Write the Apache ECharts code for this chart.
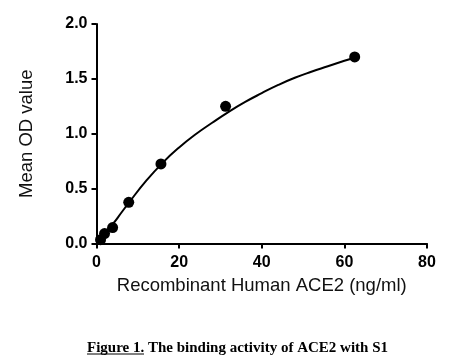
<!DOCTYPE html>
<html>
<head>
<meta charset="utf-8">
<script src="https://cdn.jsdelivr.net/npm/echarts@6/dist/echarts.min.js"></script>
<style>
html,body{margin:0;padding:0;background:#fff;}
#c{width:469px;height:356px;}
</style>
</head>
<body>
<div id="c"></div>
<script>
// Measured points (concentration, mean OD)
var concentration = [0.98, 1.95, 3.9, 7.8, 15.6, 31.25, 62.5];
var meanOD = [0.035, 0.09, 0.145, 0.375, 0.725, 1.25, 1.70];
// Fitted curve
var curveX = [0, 1, 2, 4, 6, 8, 12, 16, 20, 24, 28, 32, 36, 40, 44, 48, 52, 56, 60, 62.5];
var curveY = [0.012, 0.05, 0.10, 0.18, 0.28, 0.38, 0.57, 0.735, 0.875, 0.995, 1.10, 1.20, 1.29, 1.37, 1.445, 1.51, 1.565, 1.615, 1.665, 1.695];
var xTicks = [0, 20, 40, 60, 80];
var yTicks = [0, 0.5, 1.0, 1.5, 2.0];
var xName = 'Recombinant Human ACE2 (ng/ml)';
var yName = 'Mean OD value';
var caption = 'Figure 1. The binding activity of ACE2 with S1';

var chart = echarts.init(document.getElementById('c'), null, {renderer: 'canvas'});
var axisFont = 'Liberation Sans, Arial, sans-serif';
chart.setOption({
  animation: false,
  backgroundColor: '#fff',
  title: {
    text: caption,
    left: 82, top: 336,
    textStyle: {fontFamily: 'Liberation Serif, Times New Roman, serif', fontWeight: 'bold', fontSize: 15, color: '#000'}
  },
  graphic: [{
    type: 'line', shape: {x1: 87, y1: 354, x2: 144, y2: 354},
    style: {stroke: '#000', lineWidth: 1}
  }],
  grid: {left: 96.5, right: 42, top: 24, bottom: 112.5, containLabel: false},
  xAxis: {
    type: 'value', min: xTicks[0], max: xTicks[xTicks.length-1], interval: xTicks[1]-xTicks[0],
    name: xName, nameLocation: 'middle', nameGap: 33,
    nameTextStyle: {fontFamily: axisFont, fontSize: 18.5, color: '#111'},
    axisLine: {show: true, onZero: false, lineStyle: {color: '#000', width: 2}},
    axisTick: {show: true, inside: false, length: 5, lineStyle: {color: '#000', width: 2}},
    axisLabel: {margin: 11, fontFamily: axisFont, fontWeight: 'bold', fontSize: 16, color: '#000'},
    splitLine: {show: false}
  },
  yAxis: {
    type: 'value', min: yTicks[0], max: yTicks[yTicks.length-1], interval: yTicks[1]-yTicks[0],
    name: yName, nameLocation: 'middle', nameGap: 60,
    nameTextStyle: {fontFamily: axisFont, fontSize: 18.5, color: '#111'},
    axisLine: {show: true, onZero: false, lineStyle: {color: '#000', width: 2}},
    axisTick: {show: true, inside: false, length: 5, lineStyle: {color: '#000', width: 2}},
    axisLabel: {margin: 9, fontFamily: axisFont, fontWeight: 'bold', fontSize: 16, color: '#000',
      formatter: function (v) { return v.toFixed(1); }},
    splitLine: {show: false}
  },
  series: [{
    type: 'line',
    data: curveX.map(function (x, i) { return [x, curveY[i]]; }),
    smooth: true, showSymbol: false,
    lineStyle: {color: '#000', width: 2},
    z: 2
  }, {
    type: 'scatter',
    data: concentration.map(function (x, i) { return [x, meanOD[i]]; }),
    symbol: 'circle', symbolSize: 11,
    itemStyle: {color: '#000', opacity: 1},
    z: 3
  }]
});
</script>
</body>
</html>
